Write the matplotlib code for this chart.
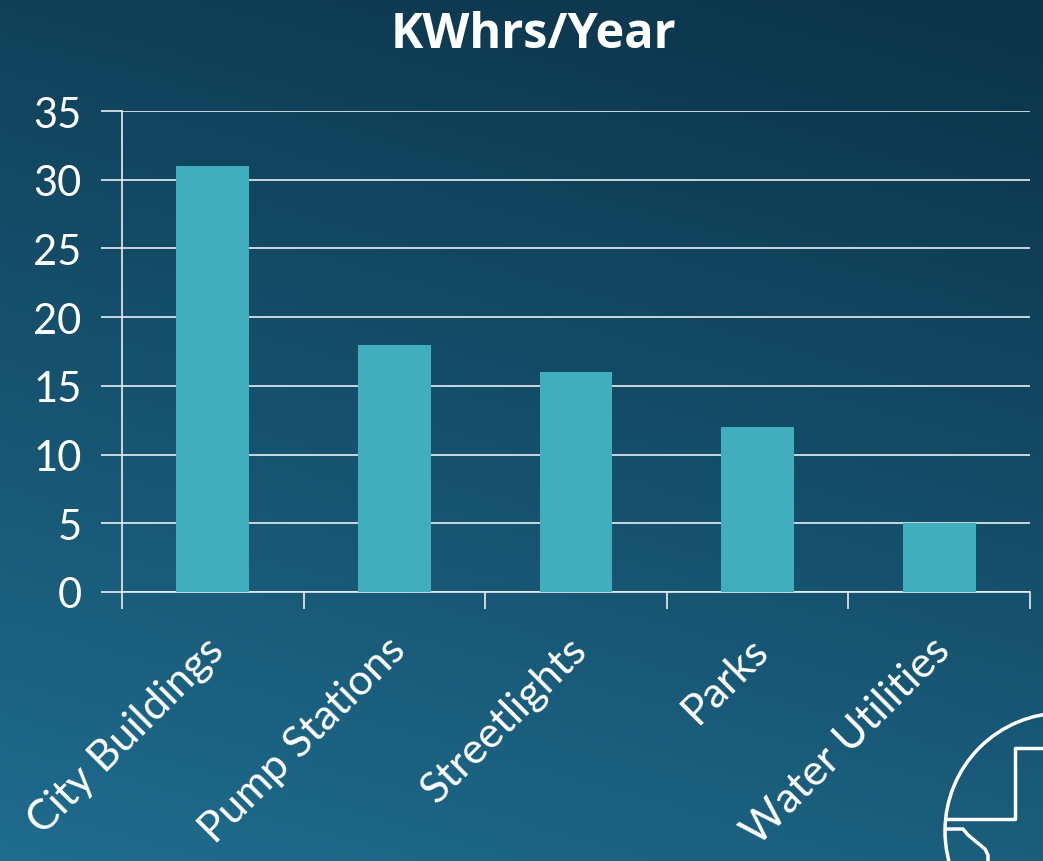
import numpy as np
import matplotlib
matplotlib.use("Agg")
import matplotlib.pyplot as plt
import matplotlib.transforms as mtransforms
from matplotlib.patches import Arc
from matplotlib.lines import Line2D

categories = ["City Buildings", "Pump Stations", "Streetlights", "Parks", "Water Utilities"]
values = [31, 18, 16, 12, 5]
yticks = [0, 5, 10, 15, 20, 25, 30, 35]
title = "KWhrs/Year"

W, H = 1043, 862
fig = plt.figure(figsize=(W / 100, H / 100), dpi=100)

# gradient background: dark at top-right, lighter at bottom-left
bg = fig.add_axes([0, 0, 1, 1], zorder=-10)
yy, xx = np.mgrid[0:1:200j, 0:1:200j]  # row 0 = top
t = np.clip(0.75 * yy + 0.25 * (1 - xx), 0, 1)
dark = np.array([0x0b, 0x32, 0x47]) / 255
light = np.array([0x1f, 0x6c, 0x8e]) / 255
img = dark[None, None, :] * (1 - t[..., None]) + light[None, None, :] * t[..., None]
bg.imshow(img, extent=[0, 1, 0, 1], aspect="auto", origin="upper")
bg.set_xlim(0, 1); bg.set_ylim(0, 1)
bg.axis("off")

ax = fig.add_axes([122 / W, 1 - 593 / H, (1030 - 122) / W, (593 - 112) / H])
ax.patch.set_alpha(0)
x = np.arange(len(categories))
ax.bar(x, values, width=0.4, color="#40aebd", zorder=3)
ax.set_xlim(-0.5, len(categories) - 0.5)
ax.set_ylim(0, 35)
ax.set_yticks(yticks)
ax.set_yticklabels([str(v) for v in yticks], fontsize=30, color="white", family="Lato")
ax.yaxis.grid(True, color="#e8eef2", linewidth=1.2, zorder=0)
ax.tick_params(axis="y", length=15, width=1.2, color="#e8eef2", pad=14)
ax.set_xticks(np.arange(len(categories) + 1) - 0.5, minor=True)
ax.set_xticks(x)
ax.set_xticklabels(categories, rotation=45, ha="right", rotation_mode="anchor",
                   fontsize=31, color="white", family="Lato")
ax.tick_params(axis="x", which="major", length=0, pad=30)
ax.tick_params(axis="x", which="minor", length=12, width=1.2, color="#e8eef2")
shift = mtransforms.ScaledTranslation(-9 / 100, 4 / 100, fig.dpi_scale_trans)
for lbl in ax.get_xticklabels():
    lbl.set_transform(lbl.get_transform() + shift)
for s in ["top", "right"]:
    ax.spines[s].set_visible(False)
ax.spines["left"].set_color("#e8eef2")
ax.spines["left"].set_linewidth(1.2)
ax.spines["bottom"].set_color("#e8eef2")
ax.spines["bottom"].set_linewidth(1.2)
ax.spines["left"].set_zorder(4)

fig.text(533 / W, 1 - 35 / H, title, ha="center", va="center", fontsize=35,
         fontweight="bold", color="white", family="Open Sans")

# decorative logo bottom-right (pixel coords)
lg = fig.add_axes([0, 0, 1, 1], zorder=5)
lg.set_xlim(0, W); lg.set_ylim(H, 0)
lg.axis("off")
lg.add_patch(Arc((1063, 832), 236, 236, theta1=180, theta2=270, color="white", lw=2.5))
lg.add_patch(Arc((1063, 832), 236, 236, theta1=90, theta2=180, color="white", lw=2.5))
lg.add_line(Line2D([1043, 1015, 1015, 948], [749, 749, 820, 820], color="white", lw=2.5))
lg.add_line(Line2D([946, 963, 968, 985, 988, 988], [830, 830, 836, 850, 856, 862], color="white", lw=2.5))

fig.savefig("out.png", dpi=100)
